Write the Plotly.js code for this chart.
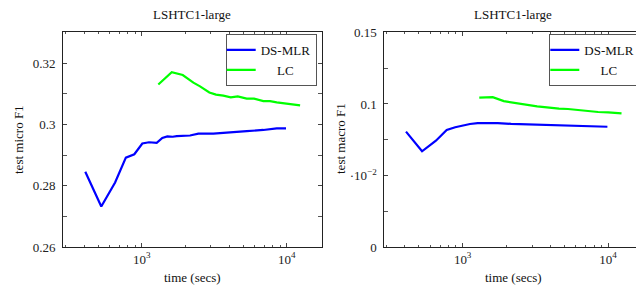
<!DOCTYPE html>
<html>
<head>
<meta charset="utf-8">
<script src="https://cdn.plot.ly/plotly-3.0.1.min.js"></script>
<style>
html,body{margin:0;padding:0;overflow:hidden;background:#fff;width:636px;height:291px;}
#chart{width:660px;height:291px;}
</style>
</head>
<body>
<div id="chart"></div>
<script>
// ---- data ----
const dsTime = [408, 526, 655, 777, 889, 1009, 1123, 1268, 1386, 1502, 1636, 1743, 2153, 2457, 3117, 4064, 5297, 6897, 8531, 9885];
const dsMicro = [0.2846, 0.2733, 0.2811, 0.2892, 0.2903, 0.2938, 0.2942, 0.2940, 0.2956, 0.2961, 0.2960, 0.2962, 0.2964, 0.2970, 0.2970, 0.2973, 0.2978, 0.2982, 0.2987, 0.2987];
const dsMacro = [0.0807, 0.0670, 0.0744, 0.0818, 0.0838, 0.0851, 0.0860, 0.0866, 0.0867, 0.0867, 0.0867, 0.0866, 0.0861, 0.0859, 0.0857, 0.0852, 0.0848, 0.0844, 0.0841, 0.0841];
const lcTime = [1301, 1610, 1918, 2270, 2523, 2925, 3251, 3652, 4109, 4593, 5297, 5946, 6897, 7670, 8531, 10000, 12360];
const lcMicro = [0.3130, 0.3170, 0.3161, 0.3136, 0.3124, 0.3104, 0.3097, 0.3094, 0.3088, 0.3091, 0.3084, 0.3084, 0.3076, 0.3076, 0.3072, 0.3068, 0.3062];
const lcMacro = [0.1044, 0.1047, 0.1020, 0.1007, 0.1000, 0.0986, 0.0983, 0.0978, 0.0971, 0.0968, 0.0965, 0.0960, 0.0952, 0.0946, 0.0944, 0.0942, 0.0935];
const seriesNames = ["DS-MLR", "&nbsp;&nbsp;&nbsp;&nbsp;&nbsp;LC"];
const xTickVals = [1000, 10000];
const xTickText = ["10<sup>3</sup>", "10<sup>4</sup>"];
const yMicroTicks = [0.26, 0.28, 0.30, 0.32];
const yMicroText = ["0.26", "0.28", "0.3", "0.32"];
const yMacroTicks = [0, 0.05, 0.1, 0.15];
const yMacroText = ["0", "·10<sup>−2</sup>", "0.1", "0.15"];
const titleText = "LSHTC1-large";

// ---- styling ----
const W = 660, H = 291;
const serif = "'Liberation Serif', 'DejaVu Serif', serif";
const blue = "#0000ff", green = "#00ff00";
const px = v => v / W, py = v => (H - v) / H;

const xMinor = [];
for (let d = 100; d <= 10000; d *= 10) for (let k = 2; k <= 9; k++) xMinor.push(k * d);

function xaxis(domain, range) {
  return {
    type: "log", domain: domain, range: range,
    tickmode: "array", tickvals: xTickVals, ticktext: xTickText,
    ticks: "inside", ticklen: 4, tickcolor: "#444", mirror: "allticks",
    showline: true, linecolor: "#222", linewidth: 1, showgrid: false, zeroline: false,
    tickfont: {family: serif, size: 13, color: "#222"}, ticklabelstandoff: 0,
    minor: {tickmode: "array", tickvals: xMinor, ticks: "inside", ticklen: 2, tickcolor: "#555", showgrid: false}
  };
}
function yaxis(domain, range, tv, tt, minorVals, anchor) {
  return {
    domain: domain, range: range, anchor: anchor,
    tickmode: "array", tickvals: tv, ticktext: tt,
    ticks: "inside", ticklen: 4, tickcolor: "#444", mirror: "allticks",
    showline: true, linecolor: "#222", linewidth: 1, showgrid: false, zeroline: false,
    tickfont: {family: serif, size: 13, color: "#222"}, ticklabelstandoff: 4,
    minor: {tickmode: "array", tickvals: minorVals, ticks: "inside", ticklen: 4, tickcolor: "#555", showgrid: false}
  };
}

const lineW = 2.2;
const traces = [
  {x: dsTime, y: dsMicro, xaxis: "x", yaxis: "y", mode: "lines", name: seriesNames[0], legend: "legend", line: {color: blue, width: lineW}},
  {x: lcTime, y: lcMicro, xaxis: "x", yaxis: "y", mode: "lines", name: seriesNames[1], legend: "legend", line: {color: green, width: lineW}},
  {x: dsTime, y: dsMacro, xaxis: "x2", yaxis: "y2", mode: "lines", name: seriesNames[0], legend: "legend2", line: {color: blue, width: lineW}},
  {x: lcTime, y: lcMacro, xaxis: "x2", yaxis: "y2", mode: "lines", name: seriesNames[1], legend: "legend2", line: {color: green, width: lineW}}
];

const yDom = [py(247.3), py(32.3)];
const legendStyle = {
  bgcolor: "#fff", bordercolor: "#555", borderwidth: 1,
  font: {family: serif, size: 13, color: "#111"},
  tracegroupgap: 0, itemwidth: 30, traceorder: "normal", indentation: -6
};

const labelFont = {family: serif, size: 13, color: "#111"};
function ann(text, x, y, angle) {
  return {text: text, x: px(x), y: py(y), xref: "paper", yref: "paper", xanchor: "center", yanchor: "middle",
          showarrow: false, textangle: angle || 0, font: labelFont};
}
const layout = {
  width: W, height: H,
  margin: {l: 0, r: 0, t: 0, b: 0},
  paper_bgcolor: "#fff", plot_bgcolor: "#fff",
  showlegend: true,
  xaxis: xaxis([px(63), px(322)], [2.457, 4.243]),
  yaxis: yaxis(yDom, [0.26, 0.33], yMicroTicks, yMicroText, [0.27, 0.29, 0.31], "x"),
  xaxis2: Object.assign(xaxis([px(384.3), px(643.5)], [2.4615, 4.243]), {anchor: "y2"}),
  yaxis2: yaxis(yDom, [0, 0.15], yMacroTicks, yMacroText, [0.025, 0.075, 0.125], "x2"),
  legend: Object.assign({x: px(316.7), xanchor: "right", y: py(34), yanchor: "top"}, legendStyle),
  legend2: Object.assign({x: px(549.3), xanchor: "left", y: py(34), yanchor: "top"}, legendStyle),
  annotations: [
    ann(titleText, 192, 14),
    ann(titleText, 513, 14),
    ann("time (secs)", 192, 277),
    ann("time (secs)", 513, 277),
    ann("test micro F1", 18, 140, -90),
    ann("test macro F1", 340, 139, -90)
  ]
};

Plotly.newPlot("chart", traces, layout, {staticPlot: true, displayModeBar: false});
</script>
</body>
</html>
